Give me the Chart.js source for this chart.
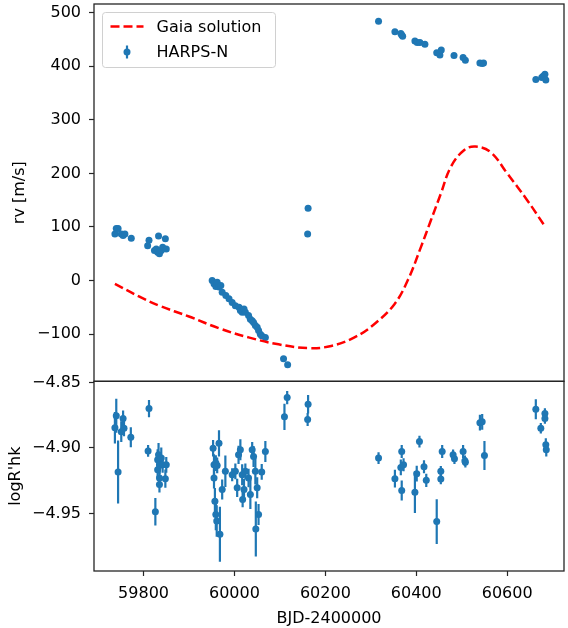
<!DOCTYPE html>
<html>
<head>
<meta charset="utf-8">
<script src="https://cdn.jsdelivr.net/npm/chart.js@4.4.1/dist/chart.umd.min.js"></script>
<style>
  html, body { margin: 0; padding: 0; background: #fff; }
  #plot { display: block; }
</style>
</head>
<body>
<canvas id="plot" width="568" height="628"></canvas>
<script>
// HARPS-N radial velocities (BJD-2400000, m/s)
const rvTime = [
  59737, 59740, 59744, 59751, 59755, 59759, 59773,
  59809, 59812, 59824, 59828, 59831, 59833, 59835, 59835, 59839, 59842, 59848, 59850,
  59951, 59955, 59959, 59962, 59966, 59970, 59973, 59981, 59988, 59995, 60002, 60010,
  60013, 60017, 60021, 60024, 60031, 60035, 60039, 60042, 60046, 60050, 60053, 60057,
  60060, 60068, 60108, 60117, 60161, 60162,
  60317, 60353, 60366, 60368, 60370, 60397, 60402, 60408, 60419, 60445, 60452, 60455,
  60483, 60503, 60508, 60540, 60545, 60548, 60663, 60676, 60679, 60683, 60685
];
const rv = [
  87, 97, 97, 87, 84, 87, 79,
  65, 75, 56, 59, 53, 83, 50, 54, 56, 62, 78, 59,
  0, -6, -11, -3, -12, -9, -22, -28, -34, -41, -47, -50,
  -56, -59, -53, -59, -65, -72, -75, -78, -84, -87, -93, -100,
  -103, -106, -146, -157, 87, 135,
  484, 464, 461, 458, 456, 447, 444, 444, 441, 425, 421, 430,
  420, 416, 411, 406, 405, 406, 375, 379, 381, 385, 374
];

// Gaia orbit solution
const gaiaTime = [
  59737, 59791, 59835, 59900, 59966, 60031, 60097, 60162, 60213, 60264, 60308, 60352,
  60381, 60410, 60432, 60454, 60476, 60505, 60530, 60563, 60600, 60644, 60680
];
const gaiaRv = [
  -6, -30, -47, -67, -89, -106, -119, -126, -122, -106, -81, -44,
  0, 62, 112, 162, 212, 243, 250, 240, 200, 150, 105
];

// activity index log R'hk with errors
const rhkTime = [
  59737, 59740, 59744, 59751, 59755, 59757, 59772,
  59810, 59812, 59826, 59831, 59831, 59833, 59835, 59835, 59835, 59839, 59842, 59848, 59850,
  59953, 59955, 59955, 59957, 59959, 59959, 59961, 59962, 59966, 59968, 59973, 59980,
  59995, 60002, 60006, 60009, 60013, 60017, 60018, 60021, 60024, 60031, 60035, 60039,
  60042, 60046, 60047, 60050, 60053, 60060, 60068,
  60110, 60116, 60161, 60162,
  60317, 60353, 60366, 60368, 60368, 60372, 60397, 60401, 60407, 60417, 60422, 60445,
  60454, 60454, 60457, 60481, 60484, 60503, 60507, 60508, 60540, 60545, 60550,
  60663, 60674, 60683, 60683, 60685, 60686
];
const rhk = [
  -4.8846, -4.8755, -4.9184, -4.8876, -4.8775, -4.8851, -4.8919,
  -4.9023, -4.8700, -4.9487, -4.9091, -4.9167, -4.9053, -4.9129, -4.9230, -4.9280, -4.9078, -4.9129, -4.9235, -4.9129,
  -4.9002, -4.9129, -4.9230, -4.9407, -4.9116, -4.9508, -4.9558, -4.9134, -4.8965, -4.9660, -4.9318, -4.9179,
  -4.9205, -4.9179, -4.9305, -4.9053, -4.9015, -4.9205, -4.9394, -4.9318, -4.9179, -4.9230, -4.9356, -4.9015,
  -4.9066, -4.9179, -4.9620, -4.9305, -4.9508, -4.9184, -4.9028,
  -4.8763, -4.8616, -4.8783, -4.8667,
  -4.9078, -4.9235, -4.9149, -4.9028, -4.9326, -4.9129, -4.9338, -4.9197, -4.8952, -4.9144, -4.9248, -4.9563,
  -4.9179, -4.9237, -4.9028, -4.9053, -4.9083, -4.9028, -4.9098, -4.9109, -4.8808, -4.8801, -4.9058,
  -4.8705, -4.8851, -4.8737, -4.8775, -4.8977, -4.9015
];
const rhkErr = [
  0.012, 0.013, 0.024, 0.008, 0.006, 0.006, 0.0076,
  0.0045, 0.0066, 0.0105, 0.008, 0.006, 0.009, 0.007, 0.006, 0.006, 0.008, 0.006, 0.007, 0.006,
  0.0063, 0.008, 0.008, 0.010, 0.006, 0.012, 0.012, 0.006, 0.010, 0.021, 0.0076, 0.012,
  0.005, 0.006, 0.007, 0.007, 0.008, 0.008, 0.006, 0.008, 0.006, 0.007, 0.011, 0.006,
  0.008, 0.010, 0.021, 0.008, 0.008, 0.006, 0.008,
  0.010, 0.005, 0.005, 0.007,
  0.0045, 0.0068, 0.006, 0.005, 0.0076, 0.005, 0.016, 0.006, 0.0045, 0.005, 0.005, 0.017,
  0.004, 0.004, 0.005, 0.004, 0.004, 0.005, 0.004, 0.004, 0.006, 0.006, 0.011,
  0.0076, 0.004, 0.004, 0.004, 0.005, 0.005
];

const xTicks = [59800, 60000, 60200, 60400, 60600];
const rvTicks = [-100, 0, 100, 200, 300, 400, 500];
const rhkTicks = [-4.95, -4.90, -4.85];

const BLUE = "#1f77b4";
const AXIS = "#262626";

Chart.defaults.font.family = "DejaVu Sans";
Chart.defaults.font.size = 16;
Chart.defaults.color = "#000";

const minus = (s) => String(s).replace("-", "\u2212");

function fixedTicks(values) {
  return (scale) => {
    scale.ticks = values.map((v) => ({ value: v }));
  };
}

function noPadding(scale) {
  scale.paddingTop = 0;
  scale.paddingBottom = 0;
  scale.paddingLeft = 0;
  scale.paddingRight = 0;
}

const tickGrid = { drawOnChartArea: false, tickLength: 5, color: AXIS, tickWidth: 1.2 };

// vertical error bars for the activity panel
const errorBars = {
  id: "errorBars",
  beforeDatasetsDraw(chart) {
    const { ctx, scales } = chart;
    const area = chart.chartArea;
    ctx.save();
    ctx.beginPath();
    ctx.rect(area.left, scales.y2.top, area.right - area.left, scales.y2.bottom - scales.y2.top);
    ctx.clip();
    ctx.strokeStyle = BLUE;
    ctx.lineWidth = 2.2;
    rhkTime.forEach((t, i) => {
      const px = scales.x.getPixelForValue(t);
      ctx.beginPath();
      ctx.moveTo(px, scales.y2.getPixelForValue(rhk[i] + rhkErr[i]));
      ctx.lineTo(px, scales.y2.getPixelForValue(rhk[i] - rhkErr[i]));
      ctx.stroke();
    });
    ctx.restore();
  },
};

// boxes around both panels + matplotlib-like legend
const frames = {
  id: "frames",
  afterDatasetsDraw(chart) {
    const { ctx, scales } = chart;
    const area = chart.chartArea;
    ctx.save();
    ctx.strokeStyle = AXIS;
    ctx.lineWidth = 1.3;
    [scales.y, scales.y2].forEach((s) => {
      ctx.strokeRect(area.left, s.top, area.right - area.left, s.bottom - s.top);
    });

    // legend
    const lx = area.left + 8.5, ly = scales.y.top + 8.5;
    const lw = 173, lh = 55;
    ctx.beginPath();
    ctx.roundRect(lx, ly, lw, lh, 3);
    ctx.fillStyle = "rgba(255,255,255,0.8)";
    ctx.fill();
    ctx.strokeStyle = "#d0d0d0";
    ctx.lineWidth = 1;
    ctx.stroke();

    ctx.strokeStyle = "red";
    ctx.lineWidth = 2.5;
    ctx.setLineDash([9, 4]);
    ctx.beginPath();
    ctx.moveTo(lx + 8, ly + 14);
    ctx.lineTo(lx + 41, ly + 14);
    ctx.stroke();
    ctx.setLineDash([]);

    ctx.strokeStyle = BLUE;
    ctx.lineWidth = 2.2;
    ctx.beginPath();
    ctx.moveTo(lx + 24.5, ly + 33);
    ctx.lineTo(lx + 24.5, ly + 46);
    ctx.stroke();
    ctx.fillStyle = BLUE;
    ctx.beginPath();
    ctx.arc(lx + 24.5, ly + 39.5, 3.5, 0, Math.PI * 2);
    ctx.fill();

    ctx.fillStyle = "#000";
    ctx.font = "16px 'DejaVu Sans'";
    ctx.textBaseline = "middle";
    ctx.fillText(chart.data.datasets[0].label, lx + 54, ly + 15);
    ctx.fillText(chart.data.datasets[1].label, lx + 54, ly + 40);
    ctx.restore();
  },
};

new Chart(document.getElementById("plot"), {
  data: {
    datasets: [
      {
        type: "line",
        label: "Gaia solution",
        data: gaiaTime.map((t, i) => ({ x: t, y: gaiaRv[i] })),
        yAxisID: "y",
        borderColor: "red",
        borderWidth: 2.5,
        borderDash: [9, 4],
        pointRadius: 0,
        tension: 0.4,
        fill: false,
      },
      {
        type: "scatter",
        label: "HARPS-N",
        data: rvTime.map((t, i) => ({ x: t, y: rv[i] })),
        yAxisID: "y",
        backgroundColor: BLUE,
        borderWidth: 0,
        pointRadius: 3.5,
      },
      {
        type: "scatter",
        label: "logR'hk",
        data: rhkTime.map((t, i) => ({ x: t, y: rhk[i] })),
        yAxisID: "y2",
        backgroundColor: BLUE,
        borderWidth: 0,
        pointRadius: 3.5,
      },
    ],
  },
  options: {
    responsive: false,
    animation: false,
    devicePixelRatio: 1,
    layout: { padding: { top: 3, right: 1, left: 0, bottom: 0 } },
    plugins: { legend: { display: false }, tooltip: { enabled: false } },
    scales: {
      x: {
        type: "linear",
        position: "bottom",
        min: 59691,
        max: 60725,
        afterBuildTicks: fixedTicks(xTicks),
        afterFit(s) { noPadding(s); s.height = 57; },
        grid: tickGrid,
        border: { display: false },
        ticks: { padding: 8, maxRotation: 0, autoSkip: false, callback: (v) => String(v) },
        title: { display: true, text: "BJD-2400000", font: { size: 16 }, padding: { top: 0, bottom: 0 } },
      },
      // first axis in the stack ends up at the bottom
      y2: {
        type: "linear",
        position: "left",
        stack: "panels",
        stackWeight: 190,
        min: -4.994,
        max: -4.8492,
        afterBuildTicks: fixedTicks(rhkTicks),
        afterFit(s) { noPadding(s); s.width = 94; },
        grid: tickGrid,
        border: { display: false },
        ticks: { padding: 8, autoSkip: false, callback: (v) => minus(v.toFixed(2)) },
        title: { display: true, text: "logR'hk", font: { size: 16 }, padding: { top: 6, bottom: 0 } },
      },
      y: {
        type: "linear",
        position: "left",
        stack: "panels",
        stackWeight: 378,
        min: -188,
        max: 516,
        afterBuildTicks: fixedTicks(rvTicks),
        afterFit(s) { noPadding(s); s.width = 94; },
        grid: tickGrid,
        border: { display: false },
        ticks: { padding: 8, autoSkip: false, callback: (v) => minus(v) },
        title: { display: true, text: "rv [m/s]", font: { size: 16 }, padding: { top: 10, bottom: 0 } },
      },
    },
  },
  plugins: [errorBars, frames],
});
</script>
</body>
</html>
